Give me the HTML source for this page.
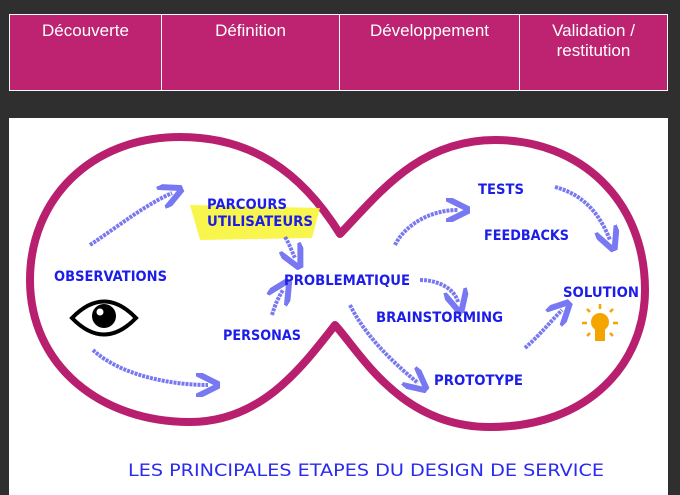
<!DOCTYPE html>
<html><head><meta charset="utf-8"><style>
html,body{margin:0;padding:0;background:#2f2f2f;width:680px;height:495px;overflow:hidden;font-family:"Liberation Sans",sans-serif}
table{position:absolute;left:9px;top:14px;width:659px;height:77px;border-collapse:collapse;background:#be2372;table-layout:fixed}
td{border:1px solid #fff;color:#fff;font-size:17px;text-align:center;vertical-align:top;padding:6px 0 0 0;line-height:20px}
#panel{position:absolute;left:9px;top:118px;width:659px;height:377px;background:#fff}
svg{position:absolute;left:0;top:0}
</style></head><body>
<table><tr><td style="width:151px">Découverte</td><td style="width:177px">Définition</td><td style="width:179px">Développement</td><td>Validation /<br>restitution</td></tr></table>
<div id="panel"></div>
<svg width="680" height="495" viewBox="0 0 680 495">
<defs><marker id="ah" markerWidth="6" markerHeight="6" refX="3" refY="3" orient="auto"><path d="M0,0 L6,3 L0,6" fill="none" stroke="#4b4bee" stroke-width="1.5"/></marker></defs>
<path d="M340,234 C300,170 250,137 180,137 C90,137 30,200 30,280 C30,365 100,422 190,422 C260,422 300,370 335,325 C360,352 400,427 490,427 C590,427 645,362 645,290 C645,200 580,140 495,140 C420,140 380,192 340,234 Z" fill="none" stroke="#b81f6e" stroke-width="8" stroke-linejoin="round"/>
<path d="M190,205 L320,208 L312,238 L200,240 Z" fill="#f7f53a" opacity="0.9"/>
<g fill="none" stroke="#4b4bee" stroke-width="4" opacity="0.75" stroke-dasharray="3 1" marker-end="url(#ah)">
<path d="M90,245 C120,225 145,205 172,193"/>
<path d="M285,237 C290,245 292,252 295,258"/>
<path d="M272,315 C275,305 278,298 283,290"/>
<path d="M93,350 C120,375 170,385 208,385"/>
<path d="M395,245 C405,225 430,210 458,210"/>
<path d="M420,280 C440,280 455,290 458,302"/>
<path d="M350,305 C365,335 390,360 418,383"/>
<path d="M525,348 C540,335 550,322 562,310"/>
<path d="M555,187 C585,195 600,215 610,240"/>
</g>
<g>
<path d="M72,318 Q104,285 136,318 Q104,351 72,318 Z" fill="#fff" stroke="#000" stroke-width="4"/>
<circle cx="104" cy="316" r="12" fill="#000"/><circle cx="100" cy="312" r="3.5" fill="#fff"/>
</g>
<g fill="#f5a500" stroke="#f5a500">
<circle cx="600" cy="322" r="9" stroke="none"/><rect x="595" y="329" width="10" height="12" stroke="none"/>
<g stroke-width="2.5"><line x1="600" y1="304" x2="600" y2="309"/><line x1="582" y1="323" x2="587" y2="323"/><line x1="613" y1="323" x2="618" y2="323"/><line x1="587" y1="309" x2="590" y2="312"/><line x1="613" y1="309" x2="610" y2="312"/><line x1="587" y1="336" x2="590" y2="333"/><line x1="613" y1="336" x2="610" y2="333"/></g>
</g>
<g font-family="DejaVu Sans, sans-serif" font-size="14" font-weight="bold" fill="#1d1de8" lengthAdjust="spacingAndGlyphs">
<text x="54" y="281" textLength="113" lengthAdjust="spacingAndGlyphs">OBSERVATIONS</text>
<text x="207" y="209" textLength="80" lengthAdjust="spacingAndGlyphs">PARCOURS</text>
<text x="207" y="226" textLength="106" lengthAdjust="spacingAndGlyphs">UTILISATEURS</text>
<text x="284" y="285" textLength="126" lengthAdjust="spacingAndGlyphs">PROBLEMATIQUE</text>
<text x="223" y="340" textLength="78" lengthAdjust="spacingAndGlyphs">PERSONAS</text>
<text x="478" y="194" textLength="46" lengthAdjust="spacingAndGlyphs">TESTS</text>
<text x="484" y="240" textLength="85" lengthAdjust="spacingAndGlyphs">FEEDBACKS</text>
<text x="376" y="322" textLength="127" lengthAdjust="spacingAndGlyphs">BRAINSTORMING</text>
<text x="563" y="297" textLength="76" lengthAdjust="spacingAndGlyphs">SOLUTION</text>
<text x="434" y="385" textLength="89" lengthAdjust="spacingAndGlyphs">PROTOTYPE</text>
</g>
<text x="128" y="476" font-family="DejaVu Sans, sans-serif" font-size="17" fill="#2a2af0" textLength="476" lengthAdjust="spacingAndGlyphs">LES PRINCIPALES ETAPES DU DESIGN DE SERVICE</text>
</svg>
</body></html>
